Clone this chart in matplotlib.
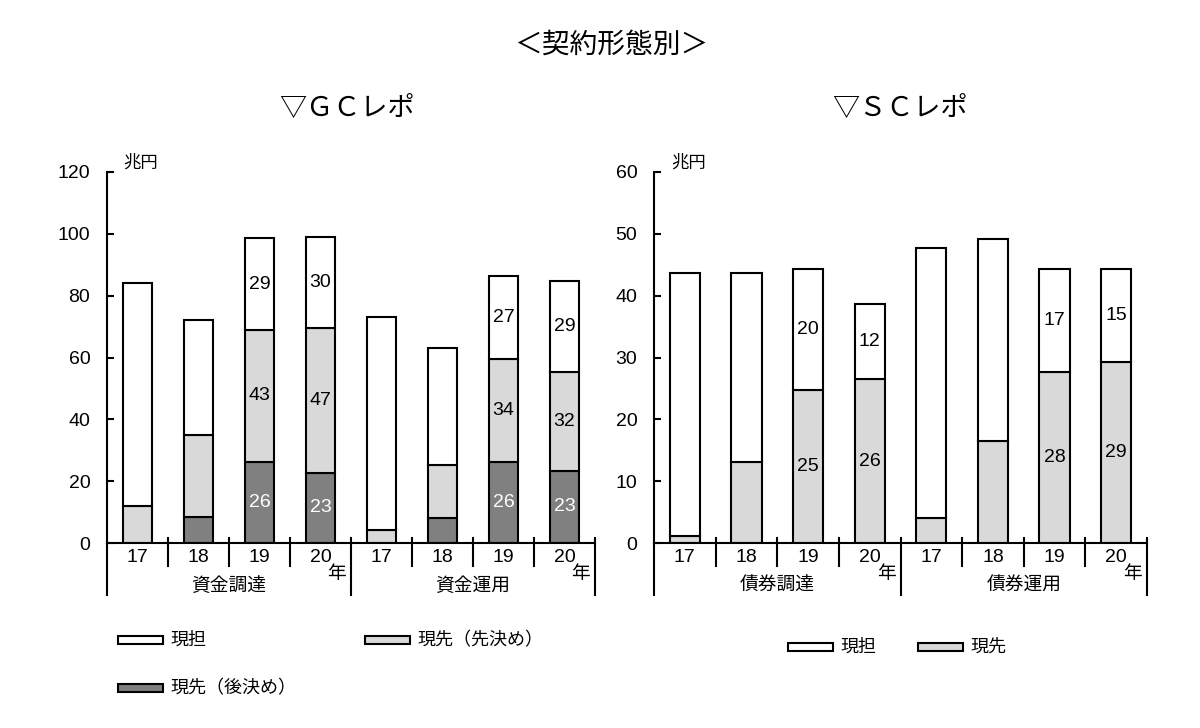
import matplotlib.pyplot as plt
from matplotlib import font_manager
from matplotlib.patches import Rectangle

# fonts
installed = {f.name for f in font_manager.fontManager.ttflist}
num_font = 'Liberation Sans Narrow' if 'Liberation Sans Narrow' in installed else 'Liberation Sans'
plt.rcParams['font.family'] = [num_font, 'Noto Sans CJK JP', 'DejaVu Sans']
jp = ['Noto Sans CJK JP', 'DejaVu Sans']

# Data
years = ['17', '18', '19', '20', '17', '18', '19', '20']

gc_groups = ['資金調達', '資金運用']
gc_series = ['現先（後決め）', '現先（先決め）', '現担']
gc_ato = [0, 8.4, 26.2, 22.8, 0, 8.1, 26.2, 23.4]
gc_saki = [12, 26.6, 42.8, 46.6, 4.2, 17.1, 33.4, 32.0]
gc_gentan = [72.1, 37.2, 29.5, 29.7, 68.9, 37.9, 26.9, 29.3]
gc_ato_lbl = ['', '', '26', '23', '', '', '26', '23']
gc_saki_lbl = ['', '', '43', '47', '', '', '34', '32']
gc_gentan_lbl = ['', '', '29', '30', '', '', '27', '29']

sc_groups = ['債券調達', '債券運用']
sc_series = ['現先', '現担']
sc_gensaki = [1.1, 13.1, 24.8, 26.5, 4.0, 16.5, 27.7, 29.3]
sc_gentan = [42.6, 30.6, 19.5, 12.2, 43.7, 32.7, 16.6, 15.0]
sc_gensaki_lbl = ['', '', '25', '26', '', '', '28', '29']
sc_gentan_lbl = ['', '', '20', '12', '', '', '17', '15']

c_white = 'white'
c_light = '#d9d9d9'
c_dark = '#808080'
W = 0.49
LW = 1.5
FS = 14

fig = plt.figure(figsize=(12, 7.28), dpi=100)
ax1 = fig.add_axes([107/1200, 1 - 543/728, 488/1200, 371/728])
ax2 = fig.add_axes([654/1200, 1 - 543/728, 493/1200, 371/728])


def stack(ax, layers, colors, labels, txtcols):
    x = list(range(len(years)))
    bottom = [0] * len(years)
    for vals, col, lbls, tc in zip(layers, colors, labels, txtcols):
        ax.bar(x, vals, W, bottom=bottom, color=col, edgecolor='black',
               linewidth=LW, zorder=2)
        for i, v in enumerate(vals):
            if lbls[i]:
                ax.text(i, bottom[i] + v / 2, lbls[i], ha='center', va='center',
                        fontsize=FS, color=tc, zorder=3)
        bottom = [b + v for b, v in zip(bottom, vals)]


def style(ax, ymax, step, groups):
    ax.set_xlim(-0.5, 7.5)
    ax.set_ylim(0, ymax)
    ax.set_yticks(range(0, ymax + 1, step))
    ax.tick_params(axis='y', direction='in', length=5, width=LW, pad=12,
                   labelsize=FS)
    ax.set_xticks(range(8))
    ax.set_xticklabels([])
    ax.tick_params(axis='x', length=0)
    for s in ['top', 'right']:
        ax.spines[s].set_visible(False)
    for s in ['left', 'bottom']:
        ax.spines[s].set_linewidth(LW)
    tr = ax.get_xaxis_transform()
    h = 371
    for i in range(9):
        xb = i - 0.5
        if i in (0, 4, 8):
            ax.plot([xb, xb], [5 / h if i else 0, -52 / h], transform=tr,
                    color='black', lw=LW, clip_on=False)
        else:
            ax.plot([xb, xb], [5 / h, -23 / h], transform=tr,
                    color='black', lw=LW, clip_on=False)
    for i, y in enumerate(years):
        ax.text(i, -14 / h, y, transform=tr, ha='center', va='center',
                fontsize=FS)
    for g, name in enumerate(groups):
        ax.text(1.5 + 4 * g, -42 / h, name, transform=tr, ha='center',
                va='center', fontsize=13.5, family=jp)
        ax.text(3.27 + 4 * g, -30 / h, '年', transform=tr, ha='center',
                va='center', fontsize=13.5, family=jp)
    ax.text(0.034, 1.024, '兆円', transform=ax.transAxes, ha='left',
            va='center', fontsize=12.5, family=jp)


stack(ax1, [gc_ato, gc_saki, gc_gentan], [c_dark, c_light, c_white],
      [gc_ato_lbl, gc_saki_lbl, gc_gentan_lbl], ['white', 'black', 'black'])
style(ax1, 120, 20, gc_groups)

stack(ax2, [sc_gensaki, sc_gentan], [c_light, c_white],
      [sc_gensaki_lbl, sc_gentan_lbl], ['black', 'black'])
style(ax2, 60, 10, sc_groups)

# titles
fig.text(611 / 1200, 1 - 45 / 728, '＜契約形態別＞', ha='center', va='center',
         fontsize=20, family=jp)
fig.text(347 / 1200, 1 - 108 / 728, '▽ＧＣレポ', ha='center', va='center',
         fontsize=19.5, family=jp)
fig.text(900 / 1200, 1 - 108 / 728, '▽ＳＣレポ', ha='center', va='center',
         fontsize=19.5, family=jp)


# legends (drawn by hand to follow the layout)
def legend_item(x, y, color, label):
    fig.patches.append(Rectangle((x / 1200, 1 - (y + 4) / 728), 45 / 1200,
                                 8 / 728, transform=fig.transFigure,
                                 facecolor=color, edgecolor='black',
                                 linewidth=LW))
    fig.text((x + 52) / 1200, 1 - y / 728, label, ha='left', va='center',
             fontsize=13, family=jp)


legend_item(118, 640, c_white, gc_series[2])
legend_item(365, 640, c_light, gc_series[1])
legend_item(118, 688, c_dark, gc_series[0])
legend_item(788, 647, c_white, sc_series[1])
legend_item(918, 647, c_light, sc_series[0])

fig.savefig('out.png', dpi=100)
